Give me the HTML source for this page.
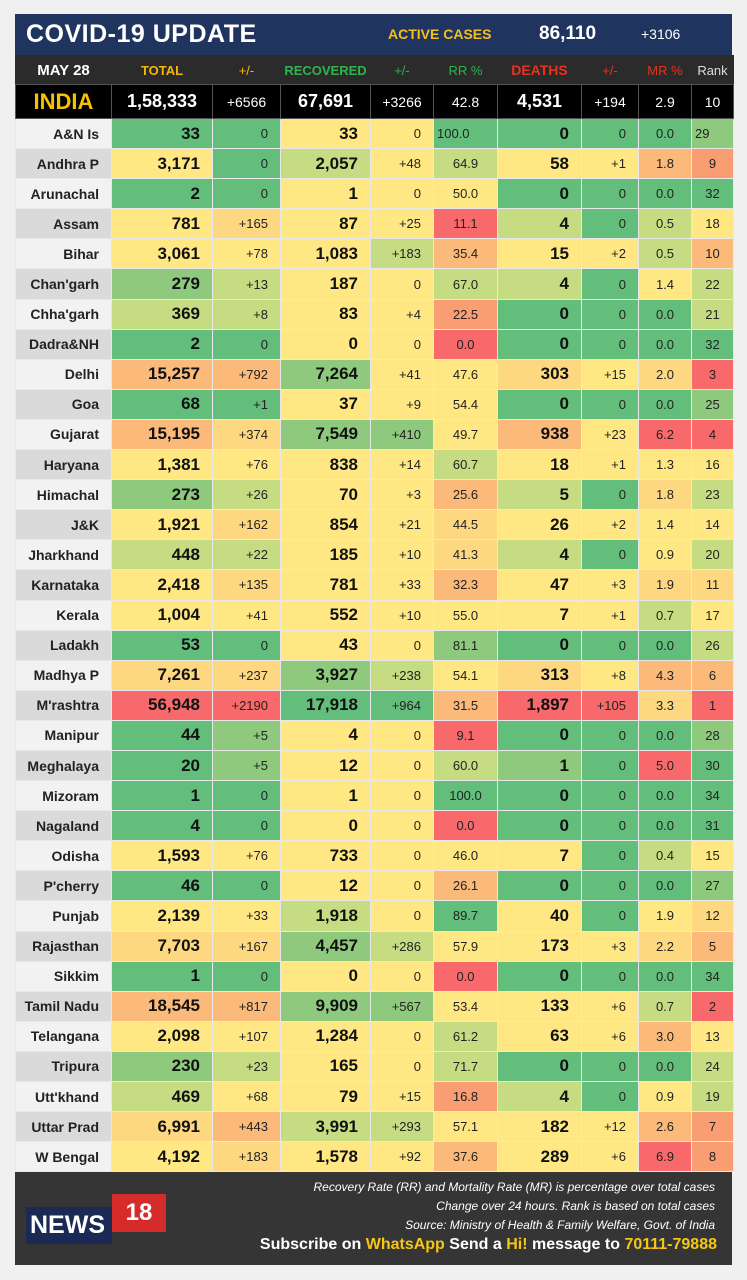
<!DOCTYPE html>
<html><head><meta charset="utf-8"><style>
body{margin:0;width:747px;height:1280px;background:#f0f0f0;font-family:"Liberation Sans",sans-serif;position:relative;overflow:hidden}
#title{position:absolute;left:15px;top:14px;width:717px;height:41px;background:#1f3560;color:#fff}
#title .t{position:absolute;left:11px;top:6px;font-size:25px;font-weight:bold;letter-spacing:0.5px}
#title .a{position:absolute;left:373px;top:12px;font-size:14px;font-weight:bold;color:#f5bf1c}
#title .n{position:absolute;left:524px;top:9px;font-size:19px;font-weight:bold}
#title .d{position:absolute;left:626px;top:12px;font-size:14px}
table{position:absolute;left:15px;top:55px;border-collapse:collapse;table-layout:fixed;width:718px}
td,th{border:1px solid #e8e8e8;padding:0 6px;text-align:center;font-size:13px;color:#222;overflow:hidden;white-space:nowrap}
tr.s td,tr.s th{height:29.1px}
th{font-size:14px;font-weight:bold;text-align:right;padding-right:12px;background:#f2f2f2}
tr.s:nth-child(even) th{background:#dadada}
td.b{font-weight:bold;font-size:17px;text-align:right;padding-right:12px;color:#111}
td.c{text-align:right;padding-right:12px}
td.l{text-align:left;padding-left:3px}
.g{background:#63be7b}.g2{background:#8ec97e}.g3{background:#c6dc82}.y{background:#ffe884}.y2{background:#fed880}.o{background:#fbb97a}.o2{background:#f99d73}.r{background:#f8696b}
tr.h td{background:#2b2b2b;height:28px;font-size:13px;border-color:#2b2b2b;border-bottom:1px solid #555}
tr.i td{background:#000;color:#fff;height:33px;font-size:14px;border-color:#555}
tr.i td.b{color:#fff;font-size:18px;text-align:center;padding:0}
#foot{position:absolute;left:15px;top:1172px;width:717px;height:93px;background:#353535;color:#fff}
#foot .it{position:absolute;right:17px;font-style:italic;font-size:12px;text-align:right}
#foot .sub{position:absolute;right:15px;top:64px;font-size:16px;font-weight:bold}
.yl{color:#f5c518}
</style></head><body>
<div id="title"><span class="t">COVID-19 UPDATE</span><span class="a">ACTIVE CASES</span><span class="n">86,110</span><span class="d">+3106</span></div>
<table>
<colgroup><col style="width:96px"><col style="width:101px"><col style="width:68px"><col style="width:90px"><col style="width:63px"><col style="width:64px"><col style="width:84px"><col style="width:57px"><col style="width:53px"><col style="width:42px"></colgroup>
<tr class="h"><td style="color:#fff;font-weight:bold;font-size:15px">MAY 28</td><td style="color:#f5b800;font-weight:bold">TOTAL</td><td style="color:#f5b800">+/-</td><td style="color:#2fb34f;font-weight:bold;padding:0">RECOVERED</td><td style="color:#2fb34f">+/-</td><td style="color:#2fb34f">RR %</td><td style="color:#e8321e;font-weight:bold;font-size:14px">DEATHS</td><td style="color:#e8321e">+/-</td><td style="color:#e8321e">MR %</td><td style="color:#ddd;padding:0">Rank</td></tr>
<tr class="i"><td style="color:#f5c100;font-weight:bold;font-size:22px;padding:0">INDIA</td><td class="b">1,58,333</td><td>+6566</td><td class="b">67,691</td><td>+3266</td><td>42.8</td><td class="b">4,531</td><td>+194</td><td>2.9</td><td>10</td></tr>
<tr class="s"><th>A&amp;N Is</th><td class="b g">33</td><td class="c g">0</td><td class="b y">33</td><td class="c y">0</td><td class="l g">100.0</td><td class="b g">0</td><td class="c g">0</td><td class="g">0.0</td><td class="l g2">29</td></tr>
<tr class="s"><th>Andhra P</th><td class="b y">3,171</td><td class="c g">0</td><td class="b g3">2,057</td><td class="c y">+48</td><td class="g3">64.9</td><td class="b y">58</td><td class="c y">+1</td><td class="o">1.8</td><td class="o2">9</td></tr>
<tr class="s"><th>Arunachal</th><td class="b g">2</td><td class="c g">0</td><td class="b y">1</td><td class="c y">0</td><td class="y">50.0</td><td class="b g">0</td><td class="c g">0</td><td class="g">0.0</td><td class="g">32</td></tr>
<tr class="s"><th>Assam</th><td class="b y">781</td><td class="c y2">+165</td><td class="b y">87</td><td class="c y">+25</td><td class="r">11.1</td><td class="b g3">4</td><td class="c g">0</td><td class="g3">0.5</td><td class="y">18</td></tr>
<tr class="s"><th>Bihar</th><td class="b y">3,061</td><td class="c y">+78</td><td class="b y">1,083</td><td class="c g3">+183</td><td class="o">35.4</td><td class="b y">15</td><td class="c y">+2</td><td class="g3">0.5</td><td class="o">10</td></tr>
<tr class="s"><th>Chan'garh</th><td class="b g2">279</td><td class="c g3">+13</td><td class="b y">187</td><td class="c y">0</td><td class="g3">67.0</td><td class="b g3">4</td><td class="c g">0</td><td class="y">1.4</td><td class="g3">22</td></tr>
<tr class="s"><th>Chha'garh</th><td class="b g3">369</td><td class="c g3">+8</td><td class="b y">83</td><td class="c y">+4</td><td class="o2">22.5</td><td class="b g">0</td><td class="c g">0</td><td class="g">0.0</td><td class="g3">21</td></tr>
<tr class="s"><th>Dadra&amp;NH</th><td class="b g">2</td><td class="c g">0</td><td class="b y">0</td><td class="c y">0</td><td class="r">0.0</td><td class="b g">0</td><td class="c g">0</td><td class="g">0.0</td><td class="g">32</td></tr>
<tr class="s"><th>Delhi</th><td class="b o">15,257</td><td class="c o">+792</td><td class="b g2">7,264</td><td class="c y">+41</td><td class="y">47.6</td><td class="b y2">303</td><td class="c y">+15</td><td class="y2">2.0</td><td class="r">3</td></tr>
<tr class="s"><th>Goa</th><td class="b g">68</td><td class="c g">+1</td><td class="b y">37</td><td class="c y">+9</td><td class="y">54.4</td><td class="b g">0</td><td class="c g">0</td><td class="g">0.0</td><td class="g2">25</td></tr>
<tr class="s"><th>Gujarat</th><td class="b o">15,195</td><td class="c y2">+374</td><td class="b g2">7,549</td><td class="c g2">+410</td><td class="y">49.7</td><td class="b o">938</td><td class="c y">+23</td><td class="r">6.2</td><td class="r">4</td></tr>
<tr class="s"><th>Haryana</th><td class="b y">1,381</td><td class="c y">+76</td><td class="b y">838</td><td class="c y">+14</td><td class="g3">60.7</td><td class="b y">18</td><td class="c y">+1</td><td class="y">1.3</td><td class="y">16</td></tr>
<tr class="s"><th>Himachal</th><td class="b g2">273</td><td class="c g3">+26</td><td class="b y">70</td><td class="c y">+3</td><td class="o">25.6</td><td class="b g3">5</td><td class="c g">0</td><td class="y2">1.8</td><td class="g3">23</td></tr>
<tr class="s"><th>J&amp;K</th><td class="b y">1,921</td><td class="c y2">+162</td><td class="b y">854</td><td class="c y">+21</td><td class="y2">44.5</td><td class="b y">26</td><td class="c y">+2</td><td class="y">1.4</td><td class="y">14</td></tr>
<tr class="s"><th>Jharkhand</th><td class="b g3">448</td><td class="c g3">+22</td><td class="b y">185</td><td class="c y">+10</td><td class="y2">41.3</td><td class="b g3">4</td><td class="c g">0</td><td class="y">0.9</td><td class="g3">20</td></tr>
<tr class="s"><th>Karnataka</th><td class="b y">2,418</td><td class="c y2">+135</td><td class="b y">781</td><td class="c y">+33</td><td class="o">32.3</td><td class="b y">47</td><td class="c y">+3</td><td class="y2">1.9</td><td class="y2">11</td></tr>
<tr class="s"><th>Kerala</th><td class="b y">1,004</td><td class="c y">+41</td><td class="b y">552</td><td class="c y">+10</td><td class="y">55.0</td><td class="b y">7</td><td class="c y">+1</td><td class="g3">0.7</td><td class="y">17</td></tr>
<tr class="s"><th>Ladakh</th><td class="b g">53</td><td class="c g">0</td><td class="b y">43</td><td class="c y">0</td><td class="g2">81.1</td><td class="b g">0</td><td class="c g">0</td><td class="g">0.0</td><td class="g3">26</td></tr>
<tr class="s"><th>Madhya P</th><td class="b y2">7,261</td><td class="c y2">+237</td><td class="b g2">3,927</td><td class="c g3">+238</td><td class="y">54.1</td><td class="b y2">313</td><td class="c y">+8</td><td class="o">4.3</td><td class="o">6</td></tr>
<tr class="s"><th>M'rashtra</th><td class="b r">56,948</td><td class="c r">+2190</td><td class="b g">17,918</td><td class="c g">+964</td><td class="o">31.5</td><td class="b r">1,897</td><td class="c r">+105</td><td class="y2">3.3</td><td class="r">1</td></tr>
<tr class="s"><th>Manipur</th><td class="b g">44</td><td class="c g2">+5</td><td class="b y">4</td><td class="c y">0</td><td class="r">9.1</td><td class="b g">0</td><td class="c g">0</td><td class="g">0.0</td><td class="g2">28</td></tr>
<tr class="s"><th>Meghalaya</th><td class="b g">20</td><td class="c g2">+5</td><td class="b y">12</td><td class="c y">0</td><td class="g3">60.0</td><td class="b g2">1</td><td class="c g">0</td><td class="r">5.0</td><td class="g">30</td></tr>
<tr class="s"><th>Mizoram</th><td class="b g">1</td><td class="c g">0</td><td class="b y">1</td><td class="c y">0</td><td class="g">100.0</td><td class="b g">0</td><td class="c g">0</td><td class="g">0.0</td><td class="g">34</td></tr>
<tr class="s"><th>Nagaland</th><td class="b g">4</td><td class="c g">0</td><td class="b y">0</td><td class="c y">0</td><td class="r">0.0</td><td class="b g">0</td><td class="c g">0</td><td class="g">0.0</td><td class="g">31</td></tr>
<tr class="s"><th>Odisha</th><td class="b y">1,593</td><td class="c y">+76</td><td class="b y">733</td><td class="c y">0</td><td class="y">46.0</td><td class="b y">7</td><td class="c g">0</td><td class="g3">0.4</td><td class="y">15</td></tr>
<tr class="s"><th>P'cherry</th><td class="b g">46</td><td class="c g">0</td><td class="b y">12</td><td class="c y">0</td><td class="o">26.1</td><td class="b g">0</td><td class="c g">0</td><td class="g">0.0</td><td class="g2">27</td></tr>
<tr class="s"><th>Punjab</th><td class="b y">2,139</td><td class="c y">+33</td><td class="b g3">1,918</td><td class="c y">0</td><td class="g">89.7</td><td class="b y">40</td><td class="c g">0</td><td class="y">1.9</td><td class="y2">12</td></tr>
<tr class="s"><th>Rajasthan</th><td class="b y2">7,703</td><td class="c y2">+167</td><td class="b g2">4,457</td><td class="c g3">+286</td><td class="y">57.9</td><td class="b y">173</td><td class="c y">+3</td><td class="y2">2.2</td><td class="o">5</td></tr>
<tr class="s"><th>Sikkim</th><td class="b g">1</td><td class="c g">0</td><td class="b y">0</td><td class="c y">0</td><td class="r">0.0</td><td class="b g">0</td><td class="c g">0</td><td class="g">0.0</td><td class="g">34</td></tr>
<tr class="s"><th>Tamil Nadu</th><td class="b o">18,545</td><td class="c o">+817</td><td class="b g2">9,909</td><td class="c g2">+567</td><td class="y">53.4</td><td class="b y">133</td><td class="c y">+6</td><td class="g3">0.7</td><td class="r">2</td></tr>
<tr class="s"><th>Telangana</th><td class="b y">2,098</td><td class="c y">+107</td><td class="b y">1,284</td><td class="c y">0</td><td class="g3">61.2</td><td class="b y">63</td><td class="c y">+6</td><td class="o">3.0</td><td class="y">13</td></tr>
<tr class="s"><th>Tripura</th><td class="b g2">230</td><td class="c g3">+23</td><td class="b y">165</td><td class="c y">0</td><td class="g3">71.7</td><td class="b g">0</td><td class="c g">0</td><td class="g">0.0</td><td class="g3">24</td></tr>
<tr class="s"><th>Utt'khand</th><td class="b g3">469</td><td class="c y">+68</td><td class="b y">79</td><td class="c y">+15</td><td class="o2">16.8</td><td class="b g3">4</td><td class="c g">0</td><td class="y">0.9</td><td class="g3">19</td></tr>
<tr class="s"><th>Uttar Prad</th><td class="b y2">6,991</td><td class="c o">+443</td><td class="b g3">3,991</td><td class="c g3">+293</td><td class="y">57.1</td><td class="b y">182</td><td class="c y">+12</td><td class="o">2.6</td><td class="o2">7</td></tr>
<tr class="s"><th>W Bengal</th><td class="b y">4,192</td><td class="c y2">+183</td><td class="b y">1,578</td><td class="c y">+92</td><td class="o">37.6</td><td class="b y">289</td><td class="c y">+6</td><td class="r">6.9</td><td class="o2">8</td></tr>
</table>
<div id="foot">
<div style="position:absolute;left:11px;top:35px;width:86px;height:37px;background:#1b2a55;color:#fff;font-weight:bold;font-size:25px;line-height:37px;padding-left:4px;box-sizing:border-box">NEWS</div>
<div style="position:absolute;left:97px;top:22px;width:54px;height:38px;background:#d62b2b;color:#fff;font-weight:bold;font-size:24px;line-height:38px;text-align:center">18</div>
<div class="it" style="top:8px">Recovery Rate (RR) and Mortality Rate (MR) is percentage over total cases</div>
<div class="it" style="top:27px">Change over 24 hours. Rank is based on total cases</div>
<div class="it" style="top:46px">Source: Ministry of Health &amp; Family Welfare, Govt. of India</div>
<div class="sub">Subscribe on <span class="yl">WhatsApp</span> Send a <span class="yl">Hi!</span> message to <span class="yl">70111-79888</span></div>
</div>
</body></html>
